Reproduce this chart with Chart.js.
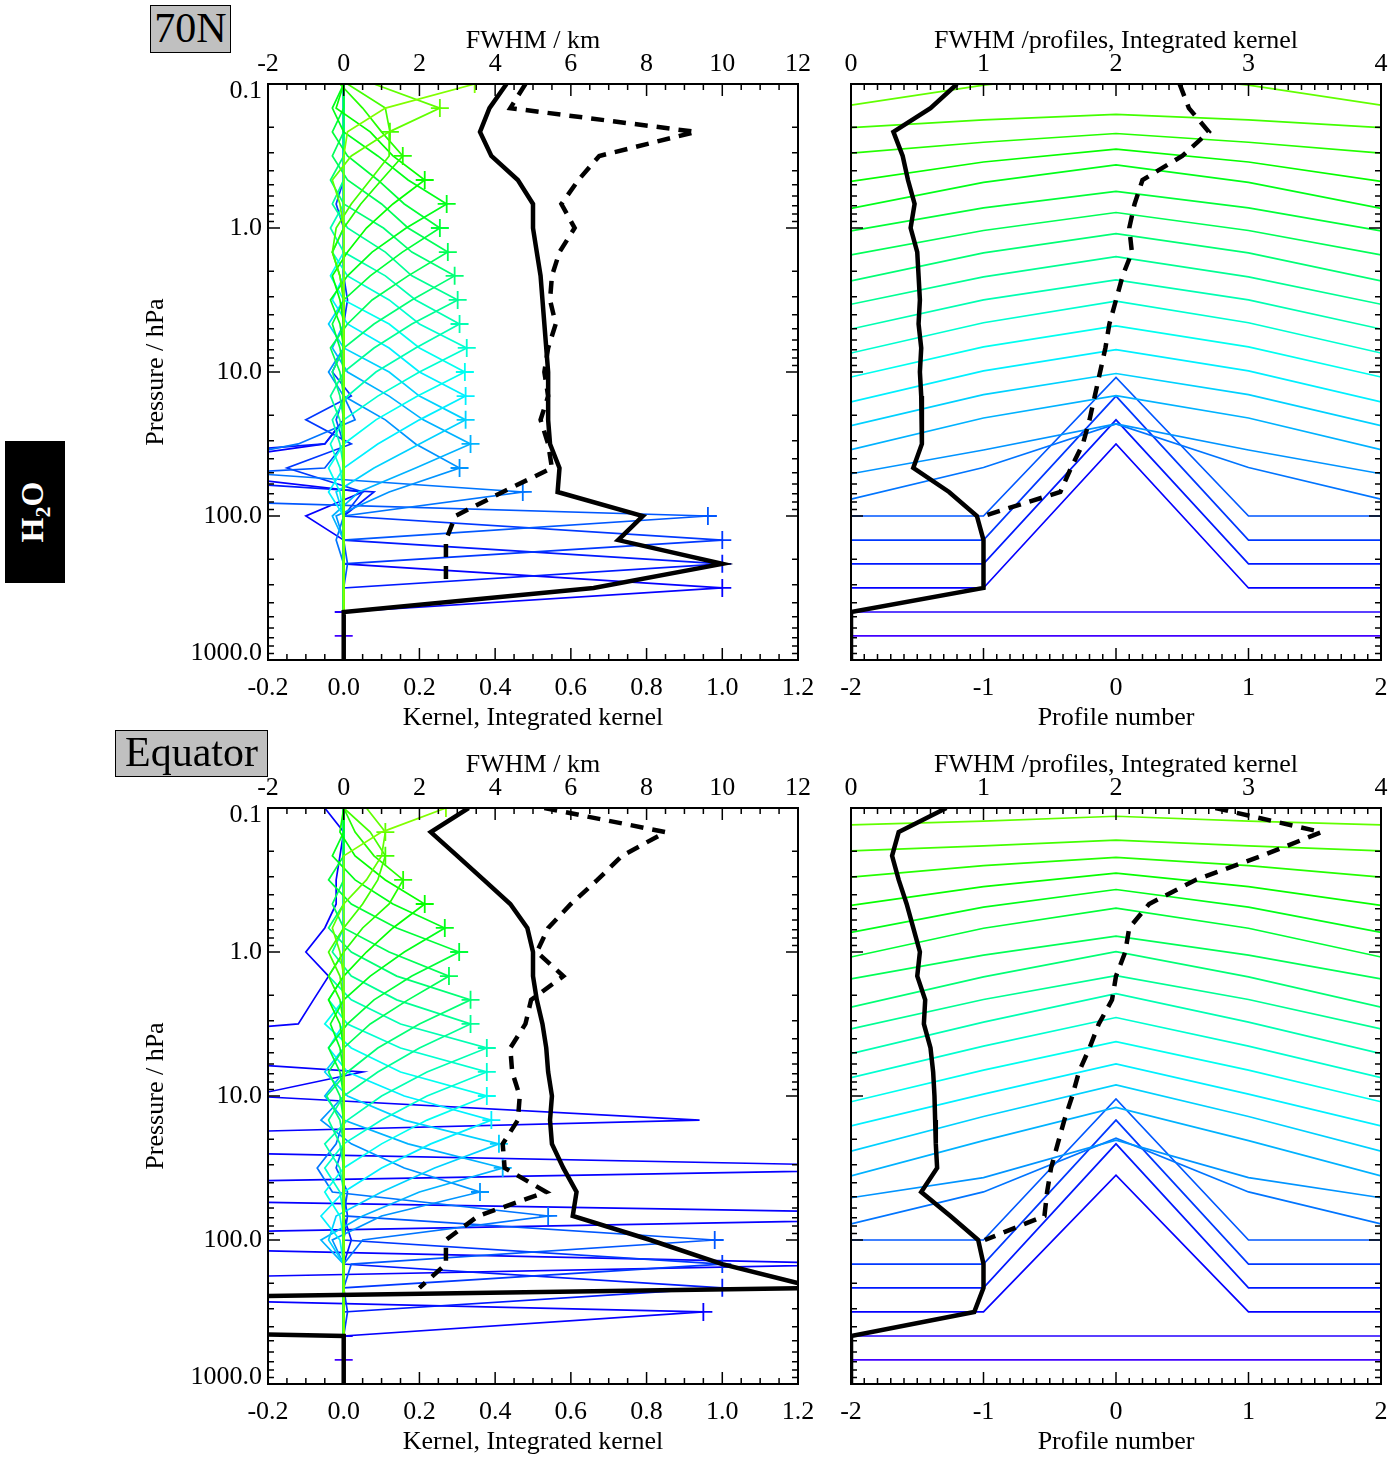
<!DOCTYPE html>
<html>
<head>
<meta charset="utf-8">
<title>H2O averaging kernels</title>
<script src="https://cdn.jsdelivr.net/npm/chart.js@4/dist/chart.umd.min.js"></script>
<style>
  body { margin: 0; background: #fff; width: 1395px; height: 1458px; position: relative; overflow: hidden;
         font-family: "Liberation Serif", "Times New Roman", serif; }
  canvas { position: absolute; }
  .tag { position: absolute; box-sizing: border-box; background: #c0c0c0; border: 1.5px solid #000;
         font-size: 42px; text-align: center; z-index: 2; }
  #species { position: absolute; left: 5px; top: 441px; width: 60px; height: 142px; background: #000; color: #fff; }
  #species span { position: absolute; left: 50%; top: 50%; transform: translate(-50%, -50%) rotate(-90deg);
                  font-weight: bold; font-size: 32px; white-space: nowrap; }
  #species sub { font-size: 22px; }
</style>
</head>
<body>
<div class="tag" style="left:150px;top:5px;width:81px;height:48px;line-height:44px">70N</div>
<div class="tag" style="left:115px;top:730px;width:153px;height:47px;line-height:43px">Equator</div>
<div id="species"><span>H<sub>2</sub>O</span></div>
<canvas id="kernel70N" width="695" height="734" style="left:125px;top:0"></canvas>
<canvas id="profile70N" width="565" height="734" style="left:830px;top:0"></canvas>
<canvas id="kernelEq" width="695" height="734" style="left:125px;top:724px"></canvas>
<canvas id="profileEq" width="565" height="734" style="left:830px;top:724px"></canvas>
<script>
// retrieval levels (hPa) and the neighbouring profiles
const pressureLevels = [0.1, 0.147, 0.215, 0.316, 0.464, 0.681, 1.0, 1.47, 2.15, 3.16, 4.64, 6.81,
  10, 14.7, 21.5, 31.6, 46.4, 68.1, 100, 147, 215, 316, 464, 681, 1000]
const profileNumbers = [-2, -1, 0, 1, 2]
const pressureTicks = [0.1, 1, 10, 100, 1000]

// vertical kernel rows, 70N (one row per level, values at every level)
const kernel70N = [
  [0.346, 0.11, 0.01, 0, 0, 0, 0, 0, 0, 0, 0, 0, 0, 0, 0, 0, 0, 0, 0, 0, 0, 0, 0, 0, 0],
  [0.08, 0.254, 0.12, 0.02, -0.03, -0.01, 0, 0, 0, 0, 0, 0, 0, 0, 0, 0, 0, 0, 0, 0, 0, 0, 0, 0, 0],
  [0.01, 0.11, 0.122, 0.12, 0.07, 0.02, -0.02, -0.03, -0.01, 0, 0, 0, 0, 0, 0, 0, 0, 0, 0, 0, 0, 0, 0, 0, 0],
  [-0.01, 0.05, 0.1, 0.156, 0.1, 0.045, 0, -0.03, -0.01, 0, 0, 0, 0, 0, 0, 0, 0, 0, 0, 0, 0, 0, 0, 0, 0],
  [0, -0.02, 0.07, 0.13, 0.214, 0.13, 0.06, 0.01, -0.03, -0.01, 0, 0, 0, 0, 0, 0, 0, 0, 0, 0, 0, 0, 0, 0, 0],
  [0, -0.03, 0, 0.09, 0.17, 0.272, 0.165, 0.075, 0.01, -0.035, -0.01, 0, 0, 0, 0, 0, 0, 0, 0, 0, 0, 0, 0, 0, 0],
  [0, 0, -0.03, 0.01, 0.09, 0.16, 0.254, 0.155, 0.07, 0, -0.03, -0.01, 0, 0, 0, 0, 0, 0, 0, 0, 0, 0, 0, 0, 0],
  [0, 0, 0, -0.03, 0.01, 0.1, 0.17, 0.275, 0.17, 0.075, 0.01, -0.035, -0.01, 0, 0, 0, 0, 0, 0, 0, 0, 0, 0, 0, 0],
  [0, 0, 0, 0, -0.035, 0, 0.105, 0.18, 0.293, 0.18, 0.08, 0, -0.03, -0.01, 0, 0, 0, 0, 0, 0, 0, 0, 0, 0, 0],
  [0, 0, 0, 0, 0, -0.03, 0.01, 0.11, 0.18, 0.301, 0.18, 0.08, 0, -0.035, -0.01, 0, 0, 0, 0, 0, 0, 0, 0, 0, 0],
  [0, 0, 0, 0, 0, 0, -0.035, 0, 0.11, 0.19, 0.306, 0.19, 0.085, 0.01, -0.03, -0.01, 0, 0, 0, 0, 0, 0, 0, 0, 0],
  [0, 0, 0, 0, 0, 0, 0, -0.03, 0.01, 0.12, 0.2, 0.325, 0.2, 0.09, 0, -0.035, -0.01, 0, 0, 0, 0, 0, 0, 0, 0],
  [0, 0, 0, 0, 0, 0, 0, 0, -0.035, 0, 0.12, 0.2, 0.32, 0.195, 0.085, 0, -0.04, -0.01, 0, 0, 0, 0, 0, 0, 0],
  [0, 0, 0, 0, 0, 0, 0, 0, 0, -0.03, 0.01, 0.12, 0.2, 0.322, 0.2, 0.09, 0, -0.04, 0, 0, 0, 0, 0, 0, 0],
  [0, 0, 0, 0, 0, 0, 0, 0, 0, 0, -0.04, 0, 0.12, 0.2, 0.322, 0.2, 0.08, -0.02, 0, 0, 0, 0, 0, 0, 0],
  [0, 0, 0, 0, 0, 0, 0, 0, 0, 0, 0, -0.03, 0.01, 0.12, 0.21, 0.335, 0.19, 0.04, -0.03, 0, 0, 0, 0, 0, 0],
  [0, 0, 0, 0, 0, 0, 0, 0, 0, 0, 0, 0, -0.04, 0, 0.11, 0.19, 0.306, 0.12, -0.02, 0, 0, 0, 0, 0, 0],
  [0, 0, 0, 0, 0, 0, 0, 0, 0, 0, 0, 0, 0, 0, 0.03, -0.12, -0.45, 0.473, 0, -0.02, 0, 0, 0, 0, 0],
  [0, 0, 0, 0, 0, 0, 0, 0, 0, 0, 0, 0, 0, 0, -0.02, 0, -0.05, -1.2, 0.962, 0, 0.01, 0, 0, 0, 0],
  [0, 0, 0, 0, 0, -0.02, 0, 0, 0, 0.01, 0, 0, -0.03, 0.02, -0.1, 0.02, -0.15, 0.05, 0, 1, 0, 0, 0, 0, 0],
  [0, 0, 0, 0, 0, 0, 0, 0, 0, 0, 0, 0, 0, 0, 0, -0.05, -0.9, 0.08, 0, 0, 1, 0, 0, 0, 0],
  [0, 0, 0, 0, 0, 0, 0, 0, 0, 0, 0, 0, 0, 0, 0, -0.05, -0.5, 0.05, -0.1, 0, 0, 1, 0, 0, 0],
  [0, 0, 0, 0, 0, 0, 0, 0, 0, 0, 0, 0, 0, 0, 0, 0, 0, 0, 0, 0, 0, 0, 0, 0, 0],
  [0, 0, 0, 0, 0, 0, 0, 0, 0, 0, 0, 0, 0, 0, 0, 0, 0, 0, 0, 0, 0, 0, 0, 0, 0],
  [0, 0, 0, 0, 0, 0, 0, 0, 0, 0, 0, 0, 0, 0, 0, 0, 0, 0, 0, 0, 0, 0, 0, 0, 0]
]
const intKernel70N = [0.43, 0.385, 0.36, 0.39, 0.46, 0.5, 0.5, 0.51, 0.52, 0.525, 0.53, 0.535,
  0.54, 0.54, 0.54, 0.545, 0.57, 0.565, 0.79, 0.725, 1.0, 0.66, 0, 0, 0]
const fwhm70N = [4.8, 4.4, 9.3, 6.75, 6.2, 5.75, 6.1, 5.7, 5.5, 5.45, 5.6, 5.4,
  5.3, 5.4, 5.2, 5.4, 5.5, 4.2, 2.95, 2.7, 2.7, 2.7, null, null, null]

// horizontal kernel rows, 70N, at profiles -2..2
const hKernel70N = [
  [0, 0.2, 0.346, 0.2, 0], [0.02, 0.16, 0.254, 0.16, 0.02], [0.03, 0.083, 0.122, 0.083, 0.03],
  [0.02, 0.095, 0.156, 0.095, 0.02], [-0.01, 0.125, 0.214, 0.125, -0.01], [-0.03, 0.15, 0.272, 0.15, -0.03],
  [-0.02, 0.14, 0.254, 0.14, -0.02], [-0.02, 0.15, 0.275, 0.15, -0.02], [-0.035, 0.16, 0.293, 0.16, -0.035],
  [-0.03, 0.16, 0.301, 0.16, -0.03], [-0.035, 0.167, 0.306, 0.167, -0.035], [-0.035, 0.175, 0.325, 0.175, -0.035],
  [-0.035, 0.175, 0.32, 0.175, -0.035], [-0.04, 0.175, 0.322, 0.175, -0.04], [-0.04, 0.175, 0.322, 0.175, -0.04],
  [-0.04, 0.18, 0.335, 0.18, -0.04], [-0.04, 0.125, 0.306, 0.125, -0.04], [-0.05, 0.17, 0.473, 0.17, -0.05],
  [0, 0, 0.962, 0, 0], [0, 0, 1, 0, 0], [0, 0, 1, 0, 0], [0, 0, 1, 0, 0],
  [0, 0, 0, 0, 0], [0, 0, 0, 0, 0], [0, 0, 0, 0, 0]
]
const hIntKernel70N = [0.8, 0.6, 0.32, 0.39, 0.43, 0.48, 0.45, 0.5, 0.51, 0.52, 0.51, 0.53,
  0.52, 0.53, 0.535, 0.535, 0.47, 0.74, 0.95, 1.0, 1.0, 1.0, 0, 0, 0]
const hFwhm70N = [2.48, 2.55, 2.7, 2.5, 2.2, 2.14, 2.1, 2.12, 2.05, 2.0, 1.95, 1.92,
  1.88, 1.84, 1.8, 1.75, 1.66, 1.58, 1.0, null, null, null, null, null, null]

// vertical kernel rows, equator
const kernelEq = [
  [0.27, 0.1, 0, 0, 0, 0, 0, 0, 0, 0, 0, 0, 0, 0, 0, 0, 0, 0, 0, 0, 0, 0, 0, 0, 0],
  [0.06, 0.11, 0.1, 0.06, 0, -0.03, -0.01, 0, 0, 0, 0, 0, 0, 0, 0, 0, 0, 0, 0, 0, 0, 0, 0, 0, 0],
  [0, 0.07, 0.11, 0.09, 0.05, 0, -0.04, -0.01, 0, 0, 0, 0, 0, 0, 0, 0, 0, 0, 0, 0, 0, 0, 0, 0, 0],
  [0, 0.03, 0.08, 0.157, 0.12, 0.05, 0, -0.04, -0.01, 0, 0, 0, 0, 0, 0, 0, 0, 0, 0, 0, 0, 0, 0, 0, 0],
  [0, -0.01, 0.03, 0.11, 0.214, 0.13, 0.06, 0, -0.04, -0.01, 0, 0, 0, 0, 0, 0, 0, 0, 0, 0, 0, 0, 0, 0, 0],
  [0, 0, -0.03, 0.03, 0.13, 0.267, 0.16, 0.07, 0, -0.035, -0.01, 0, 0, 0, 0, 0, 0, 0, 0, 0, 0, 0, 0, 0, 0],
  [0, 0, 0, -0.04, 0.02, 0.14, 0.305, 0.18, 0.08, 0.01, -0.04, -0.01, 0, 0, 0, 0, 0, 0, 0, 0, 0, 0, 0, 0, 0],
  [0, 0, 0, 0, -0.03, 0, 0.12, 0.278, 0.17, 0.07, 0, -0.04, -0.01, 0, 0, 0, 0, 0, 0, 0, 0, 0, 0, 0, 0],
  [0, 0, 0, 0, 0, -0.04, 0.02, 0.14, 0.335, 0.2, 0.09, 0.01, -0.045, -0.01, 0, 0, 0, 0, 0, 0, 0, 0, 0, 0, 0],
  [0, 0, 0, 0, 0, 0, -0.03, 0.02, 0.14, 0.335, 0.2, 0.09, 0, -0.04, -0.01, 0, 0, 0, 0, 0, 0, 0, 0, 0, 0],
  [0, 0, 0, 0, 0, 0, 0, -0.04, 0.02, 0.15, 0.378, 0.22, 0.1, 0.01, -0.05, -0.01, 0, 0, 0, 0, 0, 0, 0, 0, 0],
  [0, 0, 0, 0, 0, 0, 0, 0, -0.04, 0.01, 0.15, 0.378, 0.22, 0.1, 0, -0.05, -0.01, 0, 0, 0, 0, 0, 0, 0, 0],
  [0, 0, 0, 0, 0, 0, 0, 0, 0, -0.05, 0.02, 0.15, 0.378, 0.22, 0.1, 0, -0.05, -0.01, 0, 0, 0, 0, 0, 0, 0],
  [0, 0, 0, 0, 0, 0, 0, 0, 0, 0, -0.04, 0.01, 0.16, 0.39, 0.23, 0.1, 0, -0.06, -0.01, 0, 0, 0, 0, 0, 0],
  [0, 0, 0, 0, 0, 0, 0, 0, 0, 0, 0, -0.05, 0.01, 0.16, 0.41, 0.24, 0.1, -0.02, -0.04, 0, 0, 0, 0, 0, 0],
  [0, 0, 0, 0, 0, 0, 0, 0, 0, 0, 0, 0, -0.05, 0, 0.17, 0.42, 0.2, 0.05, -0.06, 0, 0, 0, 0, 0, 0],
  [0, 0, 0, 0, 0, 0, 0, 0, 0, 0, 0, 0, 0, -0.06, 0.02, 0.16, 0.36, 0.1, -0.03, 0, 0, 0, 0, 0, 0],
  [0, 0, 0, 0, 0, 0, 0, 0, 0, 0, 0, 0, 0, 0, -0.02, -0.07, -0.03, 0.54, 0.05, 0, 0, 0, 0, 0, 0],
  [0, 0, 0, 0, 0, 0, 0, 0, 0, 0, 0, 0, 0, 0, 0, -0.02, 0.01, 0, 0.98, 0.02, 0, 0, 0, 0, 0],
  [0, 0, 0, 0, 0, 0, 0, 0, 0, 0, 0, 0, 0, 0, 0, 0, 0, 0.01, 0, 1, 0, 0.01, 0, 0, 0],
  [0, 0, 0, 0, 0, 0, 0, 0, 0, 0, 0, 0, 0, 0, 0, 0, 0, 0, 0.02, 0, 1, 0, 0, 0, 0],
  [-0.05, 0, -0.01, -0.02, -0.02, -0.05, -0.1, -0.04, -0.08, -0.12, -0.9, 0.05, -0.25, 0.94, -1.55,
    1.7, -1.9, 2.0, -1.5, 1.4, -1.8, 0.95, 0, 0, 0],
  [0, 0, 0, 0, 0, 0, 0, 0, 0, 0, 0, 0, 0, 0, 0, 0, 0, 0, 0, 0, 0, 0, 0, 0, 0],
  [0, 0, 0, 0, 0, 0, 0, 0, 0, 0, 0, 0, 0, 0, 0, 0, 0, 0, 0, 0, 0, 0, 0, 0, 0],
  [0, 0, 0, 0, 0, 0, 0, 0, 0, 0, 0, 0, 0, 0, 0, 0, 0, 0, 0, 0, 0, 0, 0, 0, 0]
]
const intKernelEq = [0.33, 0.23, 0.3, 0.37, 0.44, 0.485, 0.5, 0.5, 0.51, 0.525, 0.535, 0.54,
  0.55, 0.545, 0.55, 0.58, 0.615, 0.605, 0.81, 1.0, 1.25, -3.1, 0, 0, 0]
const fwhmEq = [5.3, 8.5, 7.35, 6.7, 6.0, 5.4, 5.1, 5.8, 4.95, 4.8, 4.4, 4.45,
  4.65, 4.6, 4.2, 4.25, 5.35, 3.55, 2.7, 2.7, 2.0, null, null, null, null]

// horizontal kernel rows, equator
const hKernelEq = [
  [0, 0.15, 0.27, 0.15, 0], [0.05, 0.076, 0.11, 0.076, 0.05], [0.035, 0.07, 0.11, 0.07, 0.035],
  [0.02, 0.1, 0.157, 0.1, 0.02], [-0.01, 0.12, 0.214, 0.12, -0.01], [-0.03, 0.145, 0.267, 0.145, -0.03],
  [-0.035, 0.165, 0.305, 0.165, -0.035], [-0.02, 0.145, 0.278, 0.145, -0.02], [-0.05, 0.16, 0.335, 0.16, -0.05],
  [-0.035, 0.17, 0.335, 0.17, -0.035], [-0.04, 0.18, 0.378, 0.18, -0.04], [-0.04, 0.18, 0.378, 0.18, -0.04],
  [-0.04, 0.18, 0.378, 0.18, -0.04], [-0.04, 0.18, 0.39, 0.18, -0.04], [-0.05, 0.19, 0.41, 0.19, -0.05],
  [-0.055, 0.19, 0.42, 0.19, -0.055], [-0.04, 0.1, 0.36, 0.1, -0.04], [-0.055, 0.167, 0.54, 0.167, -0.055],
  [0, 0, 0.98, 0, 0], [0, 0, 1, 0, 0], [0, 0, 1, 0, 0], [0, 0, 0.95, 0, 0],
  [0, 0, 0, 0, 0], [0, 0, 0, 0, 0], [0, 0, 0, 0, 0]
]
const hIntKernelEq = [0.72, 0.36, 0.31, 0.36, 0.42, 0.47, 0.52, 0.5, 0.56, 0.55, 0.6, 0.62,
  0.63, 0.635, 0.64, 0.65, 0.53, 0.75, 0.96, 1.0, 1.0, 0.93, 0, 0, 0]
const hFwhmEq = [2.75, 3.55, 3.1, 2.6, 2.25, 2.1, 2.07, 2.0, 1.97, 1.87, 1.8, 1.72,
  1.67, 1.61, 1.56, 1.51, 1.48, 1.46, 1.01, null, null, null, null, null, null]

const fontFamily = '"Liberation Serif", "Times New Roman", serif'
Chart.defaults.font.family = fontFamily
Chart.defaults.font.size = 26
Chart.defaults.color = '#000'

// rainbow from lime (top level) to violet (surface)
function rowColour (k) {
  return `hsl(${90 + 7.2 * k}, 100%, 50%)`
}

function levelSeries (values) {
  return values.map((v, j) => (v === null ? null : { x: v, y: pressureLevels[j] })).filter(p => p)
}

function tickText (v, digits) {
  return (Math.abs(v) < 1e-9 ? 0 : Number(v)).toFixed(digits)
}

// IDL style box: frame plus inward major/minor ticks on all four sides;
// pressure labels are pulled inside the box at both ends
const frameTicks = {
  id: 'frameTicks',
  afterDatasetsDraw (chart, args, opts) {
    const { ctx, chartArea: a, scales } = chart
    ctx.save()
    ctx.strokeStyle = '#000'
    ctx.lineWidth = 1.5
    ctx.beginPath()
    const edge = (scale, steps, y, dir) => {
      const [major, minor] = steps
      const ratio = Math.round(major / minor)
      const n0 = Math.ceil(scale.min / minor - 1e-6)
      const n1 = Math.floor(scale.max / minor + 1e-6)
      for (let n = n0; n <= n1; n++) {
        const px = scale.getPixelForValue(n * minor)
        const len = n % ratio === 0 ? 12 : 6
        ctx.moveTo(px, y)
        ctx.lineTo(px, y + dir * len)
      }
    }
    edge(scales.x, opts.bottom, a.bottom, -1)
    edge(scales.x2, opts.top, a.top, 1)
    for (let d = -1; d <= 3; d++) {
      for (let m = 1; m <= 9; m++) {
        const v = m * Math.pow(10, d)
        if (v > 1000) continue
        const py = scales.y.getPixelForValue(v)
        const len = m === 1 ? 12 : 6
        ctx.moveTo(a.left, py)
        ctx.lineTo(a.left + len, py)
        ctx.moveTo(a.right, py)
        ctx.lineTo(a.right - len, py)
      }
    }
    ctx.stroke()
    ctx.lineWidth = 2
    ctx.strokeRect(a.left, a.top, a.right - a.left, a.bottom - a.top)

    if (opts.pressureLabels) {
      ctx.fillStyle = '#000'
      ctx.font = `26px ${fontFamily}`
      ctx.textAlign = 'right'
      ctx.textBaseline = 'middle'
      pressureTicks.forEach(v => {
        const py = scales.y.getPixelForValue(v)
        const y = Math.min(Math.max(py, a.top + 7), a.bottom - 7)
        ctx.fillText(v.toFixed(1), a.left - 6, y)
      })
    }
    ctx.restore()
  }
}

function pressureAxis (showTitle, width) {
  return {
    type: 'logarithmic',
    position: 'left',
    reverse: true,
    min: 0.1,
    max: 1000,
    afterBuildTicks: scale => { scale.ticks = pressureTicks.map(v => ({ value: v })) },
    ticks: { display: false },
    grid: { display: false, drawTicks: false },
    border: { display: false },
    title: { display: showTitle, text: 'Pressure / hPa', padding: { top: 16, bottom: 0 } },
    afterFit: scale => { scale.width = width }
  }
}

function linearAxis (position, min, max, step, digits, title) {
  const bottom = position === 'bottom'
  return {
    type: 'linear',
    position: position,
    min: min,
    max: max,
    ticks: {
      stepSize: step,
      padding: bottom ? 0 : 4,
      font: bottom ? { size: 26, lineHeight: 57 / 26 } : { size: 26 },
      maxRotation: 0,
      autoSkip: false,
      callback: v => tickText(v, digits)
    },
    grid: { display: false, drawTicks: false },
    border: { display: false },
    title: { display: true, text: title, padding: bottom ? { top: 0, bottom: 0 } : { top: 26, bottom: 0 } },
    afterFit: scale => { scale.height = bottom ? 74 : 84 }
  }
}

function blackLines (integrated, fwhm, intAxis, fwhmAxis) {
  return [
    { data: levelSeries(integrated), xAxisID: intAxis, borderColor: '#000', borderWidth: 4.5, order: 0 },
    { data: levelSeries(fwhm), xAxisID: fwhmAxis, borderColor: '#000', borderWidth: 4.5, borderDash: [13, 9], order: 0 }
  ]
}

function baseOptions (scales, ticks, rightPad) {
  return {
    responsive: false,
    animation: false,
    devicePixelRatio: 1,
    events: [],
    layout: { padding: { left: 0, right: rightPad, top: 0, bottom: 0 } },
    datasets: { scatter: { showLine: true, pointRadius: 0, borderJoinStyle: 'miter' } },
    scales: scales,
    plugins: { legend: { display: false }, tooltip: { enabled: false }, frameTicks: ticks }
  }
}

// left panel: kernel rows against pressure, crosses at the diagonal element
function kernelPanel (canvasId, kernel, integrated, fwhm) {
  const datasets = blackLines(integrated, fwhm, 'x', 'x2')
  kernel.forEach((row, k) => {
    datasets.push({
      data: levelSeries(row),
      xAxisID: 'x',
      borderColor: rowColour(k),
      borderWidth: 1.7,
      pointStyle: 'cross',
      pointRadius: row.map((v, j) => (j === k ? 9 : 0)),
      pointBorderColor: rowColour(k),
      pointBorderWidth: 1.8,
      order: k + 1
    })
  })
  const scales = {
    x: linearAxis('bottom', -0.2, 1.2, 0.2, 1, 'Kernel, Integrated kernel'),
    x2: linearAxis('top', -2, 12, 2, 0, 'FWHM / km'),
    y: pressureAxis(true, 143)
  }
  new Chart(document.getElementById(canvasId), {
    type: 'scatter',
    data: { datasets: datasets },
    options: baseOptions(scales, { bottom: [0.2, 0.05], top: [2, 0.5], pressureLabels: true }, 22),
    plugins: [frameTicks]
  })
}

// right panel: each row's kernel across neighbouring profiles, offset at its own level
// (one decade of pressure per unit kernel)
function profilePanel (canvasId, hKernel, integrated, fwhm) {
  const datasets = blackLines(integrated, fwhm, 'x2', 'x2')
  hKernel.forEach((row, k) => {
    datasets.push({
      data: row.map((v, i) => ({ x: profileNumbers[i], y: pressureLevels[k] / Math.pow(10, v) })),
      xAxisID: 'x',
      borderColor: rowColour(k),
      borderWidth: 1.7,
      order: k + 1
    })
  })
  const scales = {
    x: linearAxis('bottom', -2, 2, 1, 0, 'Profile number'),
    x2: linearAxis('top', 0, 4, 1, 0, 'FWHM /profiles, Integrated kernel'),
    y: pressureAxis(false, 21)
  }
  new Chart(document.getElementById(canvasId), {
    type: 'scatter',
    data: { datasets: datasets },
    options: baseOptions(scales, { bottom: [1, 0.1], top: [1, 0.1], pressureLabels: false }, 14),
    plugins: [frameTicks]
  })
}

kernelPanel('kernel70N', kernel70N, intKernel70N, fwhm70N)
profilePanel('profile70N', hKernel70N, hIntKernel70N, hFwhm70N)
kernelPanel('kernelEq', kernelEq, intKernelEq, fwhmEq)
profilePanel('profileEq', hKernelEq, hIntKernelEq, hFwhmEq)
</script>
</body>
</html>
